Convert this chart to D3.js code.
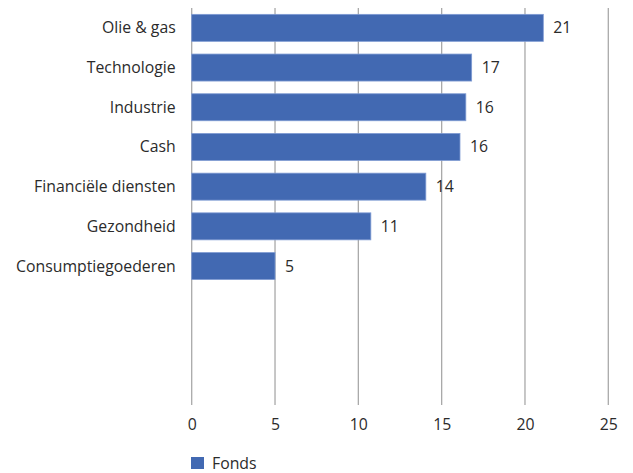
<!DOCTYPE html>
<html>
<head>
<meta charset="utf-8">
<script src="https://cdn.jsdelivr.net/npm/d3@7"></script>
<style>
    body { margin: 0; background: #fff; }
    svg text { font-family: "Open Sans", sans-serif; fill: #2b2b2b; }
</style>
</head>
<body>
<div id="chart"></div>
<script>
// data
const categories = ['Olie & gas', 'Technologie', 'Industrie', 'Cash',
    'Financiële diensten', 'Gezondheid', 'Consumptiegoederen']
const fonds = [21.1, 16.8, 16.45, 16.1, 14.05, 10.75, 5.0]
const xTicks = [0, 5, 10, 15, 20, 25]
const seriesName = 'Fonds'

const width = 633, height = 473
const margin = {top: 8, left: 191.7, right: 24.7, bottom: 68}
const plotW = width - margin.left - margin.right
const plotH = height - margin.top - margin.bottom
const barColor = '#4269b2'
const fontSize = '15.8px'

const svg = d3.select('#chart')
    .append('svg')
        .attr('width', width)
        .attr('height', height)

const plot = svg.append('g')
    .attr('transform', 'translate(' + margin.left + ',' + margin.top + ')')

const xScale = d3.scaleLinear().domain([0, 25]).range([0, plotW])

// 10 slots, only the first 7 filled
const slots = d3.range(10)
const yScale = d3.scaleBand().domain(slots).range([0, plotH]).paddingInner(0.32).paddingOuter(0.16)

// grid lines
plot.append('g')
    .selectAll('line')
    .data(xTicks)
    .join('line')
        .attr('x1', d => xScale(d))
        .attr('x2', d => xScale(d))
        .attr('y1', 0)
        .attr('y2', plotH)
        .attr('stroke', '#a9a9a9')
        .attr('stroke-width', 1.3)

// bars
plot.append('g')
    .selectAll('rect')
    .data(fonds)
    .join('rect')
        .attr('x', xScale(0))
        .attr('y', (d, i) => yScale(i))
        .attr('width', d => xScale(d) - xScale(0))
        .attr('height', yScale.bandwidth())
        .attr('fill', barColor)
        .attr('stroke', '#7f9bd3')
        .attr('stroke-width', 0.8)

// value labels
plot.append('g')
    .selectAll('text')
    .data(fonds)
    .join('text')
        .attr('x', d => xScale(d) + 10)
        .attr('y', (d, i) => yScale(i) + yScale.bandwidth() / 2)
        .attr('dy', '0.35em')
        .style('font-size', fontSize)
        .text(d => d3.format('.0f')(d))

// category labels
plot.append('g')
    .selectAll('text')
    .data(categories)
    .join('text')
        .attr('x', -16)
        .attr('y', (d, i) => yScale(i) + yScale.bandwidth() / 2)
        .attr('dy', '0.35em')
        .attr('text-anchor', 'end')
        .style('font-size', fontSize)
        .text(d => d)

// x axis labels
const xAxis = d3.axisBottom(xScale).tickValues(xTicks).tickSize(0).tickPadding(14)
const axisG = plot.append('g')
    .attr('transform', 'translate(0,' + plotH + ')')
    .call(xAxis)
axisG.select('.domain').remove()
axisG.selectAll('text')
    .style('font-size', fontSize)
    .style('font-family', '"Open Sans", sans-serif')
    .attr('fill', '#2b2b2b')

// legend
const legend = svg.append('g')
    .attr('transform', 'translate(191,457)')
legend.append('rect')
    .attr('width', 13)
    .attr('height', 12)
    .attr('fill', barColor)
legend.append('text')
    .attr('x', 21)
    .attr('y', 6)
    .attr('dy', '0.35em')
    .style('font-size', fontSize)
    .text(seriesName)
</script>
</body>
</html>
